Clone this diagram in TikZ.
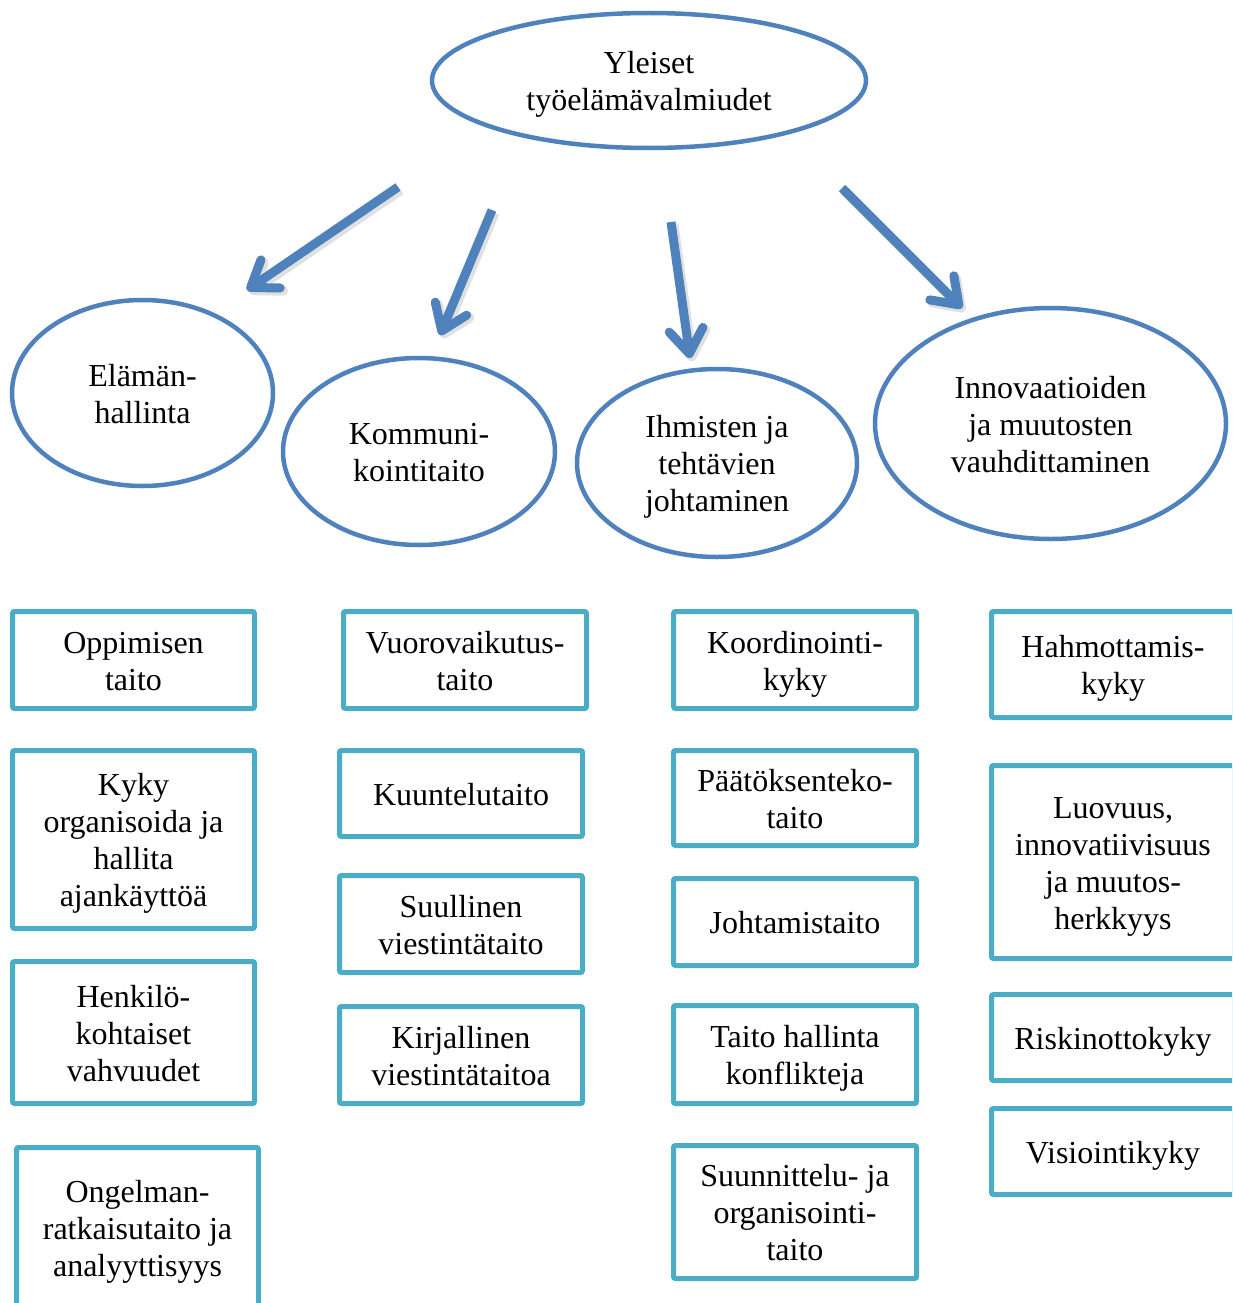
\documentclass[tikz,border=0pt]{standalone}
\usepackage{fontspec}
\setmainfont{Liberation Serif}
\usetikzlibrary{arrows.meta,shapes.geometric}
\definecolor{ovalblue}{RGB}{79,129,189}
\definecolor{boxteal}{RGB}{75,172,198}
% fixed ascent of the first line and depth of the last line of every label
\newcommand{\topstrut}{\rule{0pt}{31pt}}
\newcommand{\bottomstrut}{\rule[-7.5pt]{0pt}{0pt}}

\begin{document}
\begin{tikzpicture}[x=1pt,y=-1pt,
  every node/.style={font=\fontsize{32}{37}\selectfont, align=center, inner sep=0pt,
    execute at end node=\bottomstrut},
  oval/.style={ellipse, draw=ovalblue, line width=4.5pt},
  skill/.style={rectangle, draw=boxteal, line width=5pt, rounded corners=2pt},
  bigarrow/.style={draw=ovalblue, line width=9pt,
    -{Straight Barb[length=24pt, width=34pt, round]}},
  arrowshade/.style={draw=black, opacity=0.12, line width=10pt,
    -{Straight Barb[length=24pt, width=34pt, round]}}]
\useasboundingbox (0,0) rectangle (1232,1303);
\clip (0,0) rectangle (1232,1303);

% main heading
\node[oval, minimum width=434, minimum height=135] (top) at (649,80.5)
  {\topstrut Yleiset\\työelämävalmiudet};

% four competence areas
\node[oval, minimum width=261, minimum height=186] (elama) at (142.5,393)
  {\topstrut Elämän-\\hallinta};
\node[oval, minimum width=272, minimum height=187] (kommu) at (419,451.5)
  {\topstrut Kommuni-\\kointitaito};
\node[oval, minimum width=280, minimum height=188] (ihmis) at (717,463)
  {\topstrut Ihmisten ja\\tehtävien\\johtaminen};
\node[oval, minimum width=351, minimum height=231] (innov) at (1050.5,423.5)
  {\topstrut Innovaatioiden\\ja muutosten\\vauhdittaminen};

% arrows from the heading towards the areas
\coordinate (a1s) at (398,187);  \coordinate (a1e) at (247,290);
\coordinate (a2s) at (492,210);  \coordinate (a2e) at (440,335);
\coordinate (a3s) at (671,222);  \coordinate (a3e) at (690,358);
\coordinate (a4s) at (842,188);  \coordinate (a4e) at (962,308);
\foreach \s/\e in {a1s/a1e, a2s/a2e, a3s/a3e, a4s/a4e} {
  \draw[arrowshade] ([shift={(2.5,3)}]\s) -- ([shift={(2.5,3)}]\e);
  \draw[bigarrow] (\s) -- (\e);
}

% column 1: Elämänhallinta
\node[skill, minimum width=242, minimum height=97] (c1a) at (133.5,660)
  {\topstrut Oppimisen\\taito};
\node[skill, minimum width=242, minimum height=178] (c1b) at (133.5,839.5)
  {\topstrut Kyky\\organisoida ja\\hallita\\ajankäyttöä};
\node[skill, minimum width=242, minimum height=142] (c1c) at (133.5,1032.5)
  {\topstrut Henkilö-\\kohtaiset\\vahvuudet};
\node[skill, minimum width=242, minimum height=161] (c1d) at (137.5,1228)
  {\topstrut Ongelman-\\ratkaisutaito ja\\analyyttisyys};

% column 2: Kommunikointitaito
\node[skill, minimum width=243, minimum height=97] (c2a) at (465,660)
  {\topstrut Vuorovaikutus-\\taito};
\node[skill, minimum width=243, minimum height=86] (c2b) at (461,793.5)
  {\topstrut Kuuntelutaito};
\node[skill, minimum width=243, minimum height=97] (c2c) at (461,924)
  {\topstrut Suullinen\\viestintätaito};
\node[skill, minimum width=243, minimum height=97] (c2d) at (461,1055)
  {\topstrut Kirjallinen\\viestintätaitoa};

% column 3: Ihmisten ja tehtävien johtaminen
\node[skill, minimum width=243, minimum height=97] (c3a) at (795,660)
  {\topstrut Koordinointi-\\kyky};
\node[skill, minimum width=243, minimum height=95] (c3b) at (795,798)
  {\topstrut Päätöksenteko-\\taito};
\node[skill, minimum width=243, minimum height=87] (c3c) at (795,922)
  {\topstrut Johtamistaito};
\node[skill, minimum width=243, minimum height=98] (c3d) at (795,1054.5)
  {\topstrut Taito hallinta\\konflikteja};
\node[skill, minimum width=243, minimum height=133] (c3e) at (795,1212)
  {\topstrut Suunnittelu- ja\\organisointi-\\taito};

% column 4: Innovaatioiden ja muutosten vauhdittaminen
\node[skill, minimum width=243, minimum height=106] (c4a) at (1113,664.5)
  {\topstrut Hahmottamis-\\kyky};
\node[skill, minimum width=243, minimum height=193] (c4b) at (1113,862)
  {\topstrut Luovuus,\\innovatiivisuus\\ja muutos-\\herkkyys};
\node[skill, minimum width=243, minimum height=86] (c4c) at (1113,1037.5)
  {\topstrut Riskinottokyky};
\node[skill, minimum width=243, minimum height=86] (c4d) at (1113,1151.5)
  {\topstrut Visiointikyky};
\end{tikzpicture}
\end{document}
